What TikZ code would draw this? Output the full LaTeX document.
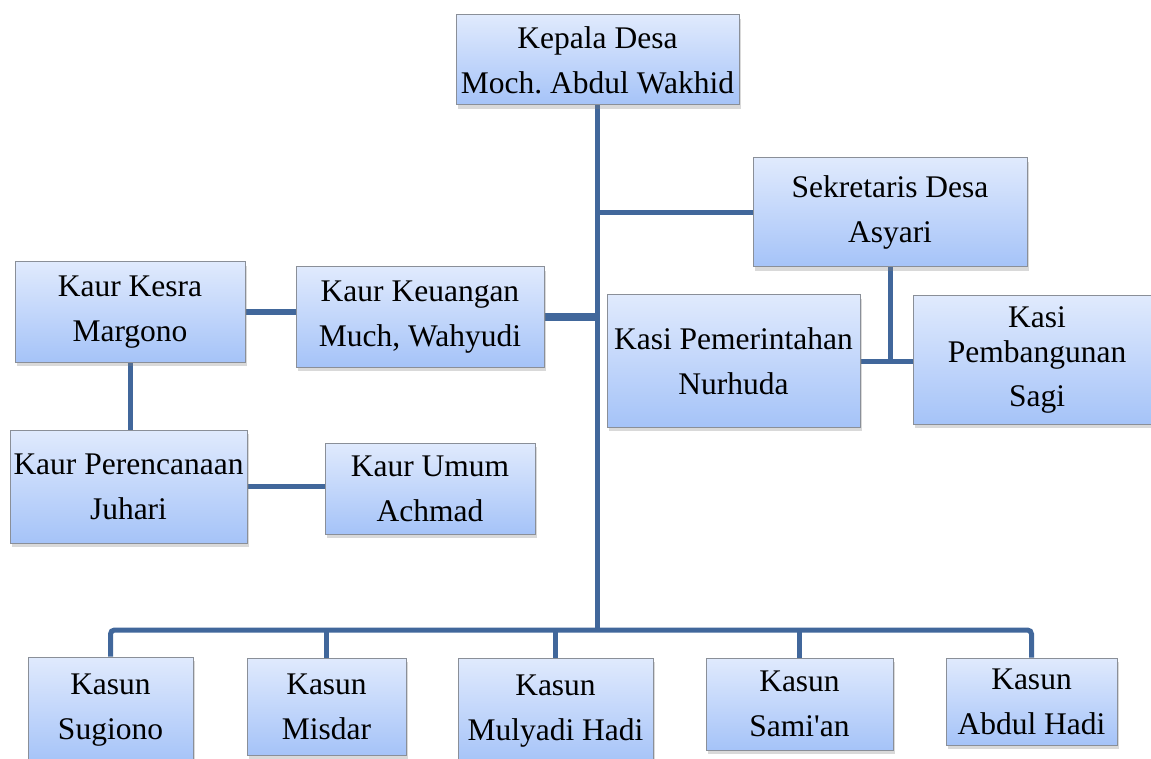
\documentclass[tikz,border=0pt]{standalone}
\usepackage{fontspec}
\setmainfont{Liberation Serif}
\usepackage{tikz}
\usetikzlibrary{positioning,calc,backgrounds,shadows}
\definecolor{DesaTop}{HTML}{E0EAFD}
\definecolor{DesaBottom}{HTML}{A5C3F8}
\definecolor{DesaEdge}{HTML}{8A8F98}
\definecolor{DesaLine}{HTML}{41679B}
\tikzset{
  orgbox/.style={draw=DesaEdge, line width=1pt, top color=DesaTop, bottom color=DesaBottom,
    inner sep=0pt, align=center, text=black, font=\fontsize{31.5}{45}\selectfont,
    drop shadow={shadow xshift=2pt, shadow yshift=-4pt, opacity=.3}},
  orglink/.style={draw=DesaLine, line width=5pt},
  orgtrunk/.style={orglink, line width=8pt}
}
\frenchspacing

\begin{document}
\begin{tikzpicture}[x=1pt, y=-1pt]
\useasboundingbox (0,0) rectangle (1151,759);
% top and staff
\node[orgbox, minimum width=283, minimum height=90] (kades) at (597.5,60) {Kepala Desa\\Moch. Abdul Wakhid};
\node[orgbox, minimum width=274, minimum height=109] (sekdes) at (890,212.5) {Sekretaris Desa\\Asyari};
\node[orgbox, minimum width=230, minimum height=100] (kesra) at (130,312) {Kaur Kesra\\Margono};
\node[orgbox, minimum width=248, minimum height=100] (keuangan) at (420,317) {Kaur Keuangan\\Much, Wahyudi};
\node[orgbox, minimum width=253, minimum height=132] (pemerintahan) at (733.5,361) {Kasi Pemerintahan\\Nurhuda};
\node[orgbox, minimum width=248, minimum height=128, font=\fontsize{31.5}{35}\selectfont] (pembangunan) at (1037,360) {Kasi\\Pembangunan\\[9pt]Sagi};
\node[orgbox, minimum width=237, minimum height=113] (perencanaan) at (128.5,486.5) {Kaur Perencanaan\\Juhari};
\node[orgbox, minimum width=210, minimum height=91] (umum) at (430,488.5) {Kaur Umum\\Achmad};
% kepala dusun
\node[orgbox, minimum width=165, minimum height=106] (sugiono) at (110.5,710) {Kasun\\Sugiono};
\node[orgbox, minimum width=159, minimum height=97] (misdar) at (326.5,706.5) {Kasun\\Misdar};
\node[orgbox, minimum width=195, minimum height=106] (mulyadi) at (555.5,711) {Kasun\\Mulyadi Hadi};
\node[orgbox, minimum width=187, minimum height=92] (samian) at (799.5,704) {Kasun\\Sami\textquotesingle an};
\node[orgbox, minimum width=171, minimum height=87] (abdulhadi) at (1031.5,701.5) {Kasun\\Abdul Hadi};
\coordinate (bus) at (597,630);

\begin{scope}[on background layer]
\draw[orglink] (kades.south) -- (kades.south |- bus);
\draw[orglink] (kades.south |- sekdes.west) -- (sekdes.west);
\draw[orgtrunk] (keuangan.east) -- (keuangan.east -| kades.south);
\draw[orglink] (kesra.east) -- (kesra.east -| keuangan.west);
\draw[orglink] (kesra.south) -- (kesra.south |- perencanaan.north);
\draw[orglink] (perencanaan.east) -- (perencanaan.east -| umum.west);
\draw[orglink] (sekdes.south) -- (sekdes.south |- pemerintahan.east);
\draw[orglink] (pemerintahan.east) -- (pemerintahan.east -| pembangunan.west);
\draw[orglink, rounded corners=4pt] (sugiono.north) |- (bus) -| (abdulhadi.north);
\foreach \kasun in {misdar,mulyadi,samian}
  \draw[orglink] (\kasun.north) -- (\kasun.north |- bus);
\end{scope}
\end{tikzpicture}
\end{document}
